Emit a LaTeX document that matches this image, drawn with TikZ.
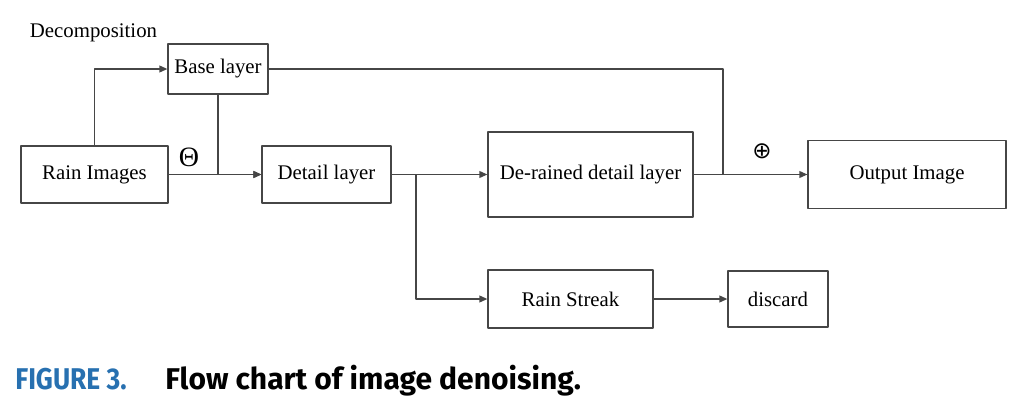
\documentclass[tikz,border=0pt]{standalone}
\usepackage{fontspec}
\setmainfont{Liberation Serif}
\newfontfamily\capfont{Fira Sans}
\newfontfamily\figfont[FakeStretch=0.88]{Fira Sans}
\newfontfamily\symfont{DejaVu Sans}
\usetikzlibrary{arrows.meta}
\definecolor{figblue}{RGB}{39,112,176}
\definecolor{linegray}{RGB}{70,70,70}
\begin{document}
\begin{tikzpicture}[x=0.5pt,y=-0.5pt,line join=round,>={Triangle[length=4pt,width=3.4pt]},
  font=\fontsize{10.4}{12}\selectfont,
  blk/.style={draw=linegray,line width=0.6pt,inner sep=0pt,minimum height=#1*0.5pt},
  blk/.default=57,
  flow/.style={->,draw=linegray,line width=0.7pt}]
\useasboundingbox (0,0) rectangle (1018,412);
\node (decomp) at (93.5,33) {Decomposition};
\node[blk,minimum width=73.5pt] (rain) at (94.5,174.5) {Rain Images};
\node[blk=50,minimum width=50pt] (base) at (218,69) {Base layer};
\node[blk,minimum width=64.5pt] (detail) at (326.5,174.5) {Detail layer};
\node[blk=85,minimum width=102.5pt] (derained) at (590.5,174.5) {De-rained detail layer};
\node[blk=68,minimum width=99pt] (output) at (907,174.5) {Output Image};
\node[blk=58,minimum width=82.5pt] (streak) at (570.5,299) {Rain Streak};
\node[blk=56,minimum width=50pt] (discard) at (778,299) {discard};
\coordinate (split) at (416,174.5);
\coordinate (join) at (723,174.5);
\draw[flow] (rain.north) |- (base.west);
\draw[flow] (base.south) |- (detail.west);
\draw[flow] (rain.east) -- (detail.west) node[pos=0.22,above=0pt,font=\fontsize{14}{14}\selectfont]{Θ};
\draw[flow] (detail.east) -- (derained.west);
\draw[flow] (split) |- (streak.west);
\draw[flow] (streak.east) -- (discard.west);
\draw[flow] (derained.east) -- (output.west);
\draw[draw=linegray,line width=0.7pt] (base.east) -| (join);
\node[font=\symfont\fontsize{11.5}{12}\selectfont] at (762,151) {⊕};
\node[anchor=base west,inner sep=0pt,font=\figfont\bfseries\fontsize{15}{18}\selectfont,text=figblue] (fig) at (15,389) {FIGURE 3.};
\node[anchor=base west,inner sep=0pt,font=\capfont\bfseries\fontsize{15}{18}\selectfont] (caption) at (165,389) {Flow chart of image denoising.};
\end{tikzpicture}
\end{document}
